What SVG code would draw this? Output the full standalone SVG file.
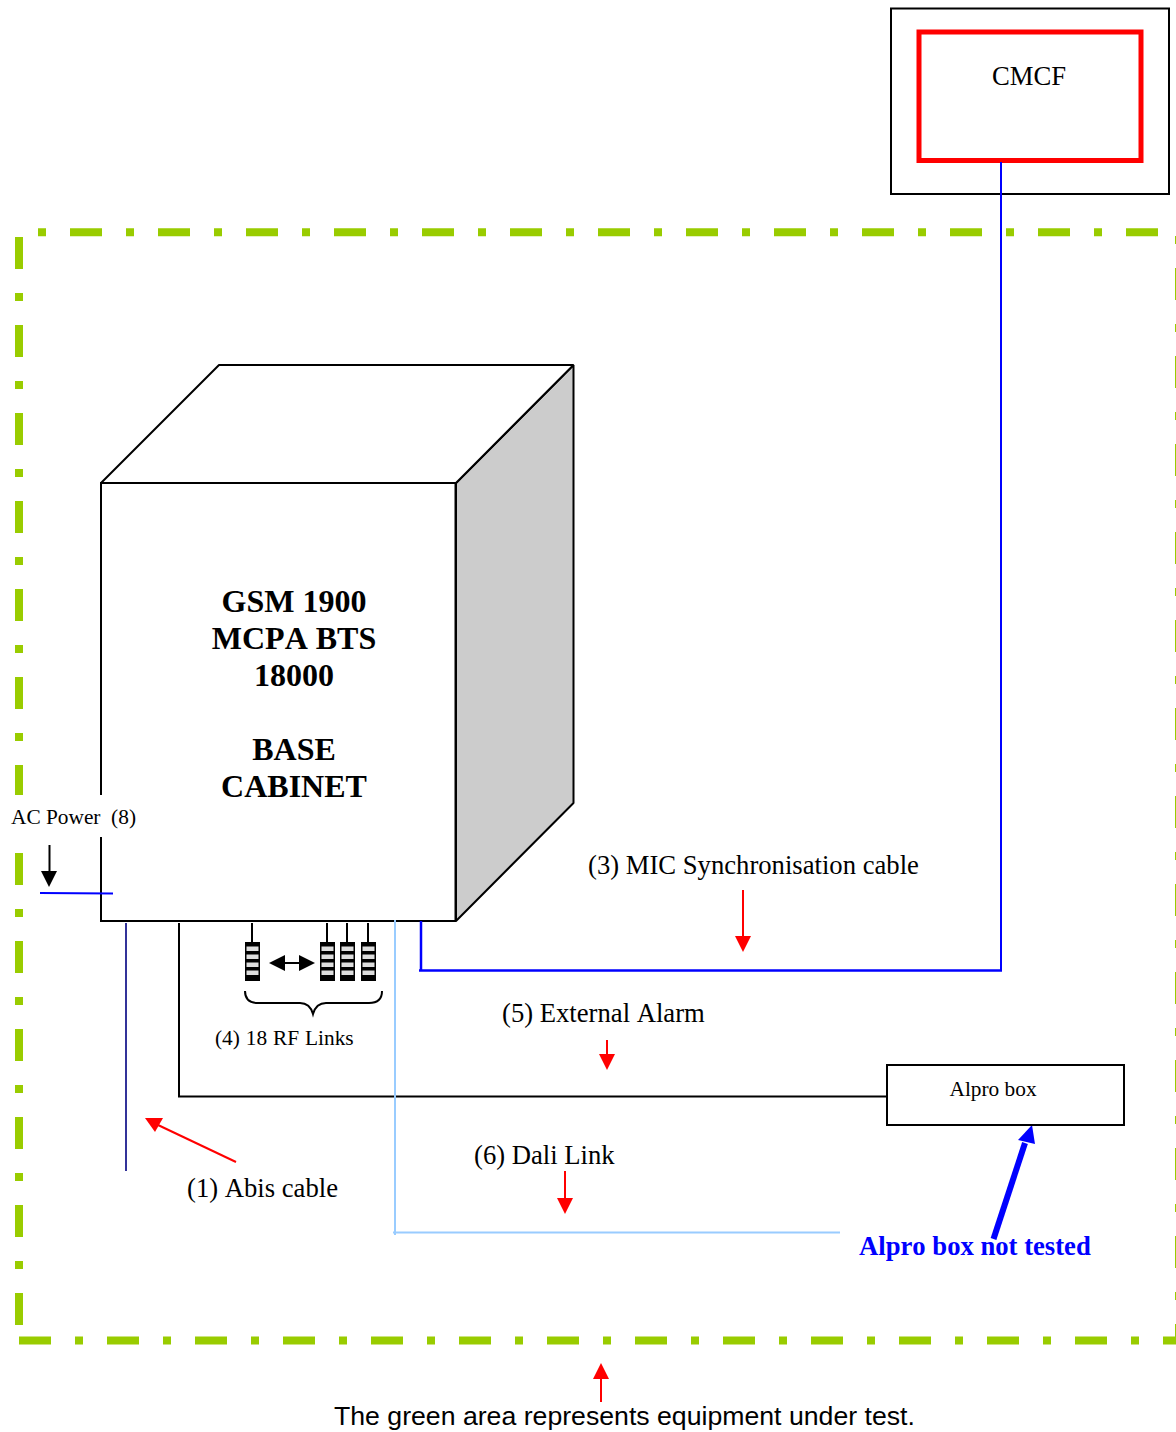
<svg xmlns="http://www.w3.org/2000/svg" width="1176" height="1432" viewBox="0 0 1176 1432">
<style>
text{font-family:"Liberation Serif","Times New Roman",serif;fill:#000;font-kerning:none;white-space:pre}
.g{fill:none;stroke:#99cc00;stroke-width:8}
.k{fill:none;stroke:#000;stroke-width:2}
.r{fill:none;stroke:#f00;stroke-width:2}
.b{fill:none;stroke:#00f;stroke-width:2}
.lb{fill:none;stroke:#99ccff;stroke-width:2}
.rh{fill:#f00}
.l{font-size:26.67px}
.t{font-size:32px;font-weight:bold;text-anchor:middle}
.s{font-size:21.33px}
</style>
<defs>
<g id="rack"><rect x="0" y="0" width="15" height="39" fill="#000"/><rect x="1.500" y="4.500" width="12" height="4.500" fill="#ddd"/><rect x="1.500" y="12.500" width="12" height="4.500" fill="#ddd"/><rect x="1.500" y="20.500" width="12" height="4.500" fill="#ddd"/><rect x="1.500" y="28.500" width="12" height="4.500" fill="#ddd"/></g>
</defs>
<g id="test-area">
<path class="g" d="M38 232.300H1176" stroke-dasharray="8 24 32 24"/>
<path class="g" d="M19 237V1325" stroke-dasharray="32 24 8 24"/>
<path class="g" d="M19 1340.400H1176" stroke-dasharray="32 24 8 24"/>
<path class="g" d="M1179 236V1344" stroke-dasharray="8 24 32 24"/>
</g>
<g id="cmcf-outer"><rect x="891" y="8.500" width="278" height="185.500" fill="none" stroke="#000" stroke-width="2"/></g>
<g id="cmcf"><rect x="919" y="32" width="222" height="128.500" fill="none" stroke="#f00" stroke-width="5"/><text x="992" y="85" class="l">CMCF</text></g>
<g id="cabinet" stroke-linejoin="bevel">
<path d="M456 483L573.500 365V803L456 921Z" fill="#ccc" stroke="#000" stroke-width="2"/>
<path d="M101 483L219 365H573.500L456 483Z" fill="#fff" stroke="#000" stroke-width="2"/>
<rect x="101" y="483" width="354.500" height="438" fill="#fff" stroke="#000" stroke-width="2" stroke-linejoin="miter"/>
<text class="t" x="294" y="612">GSM 1900</text>
<text class="t" x="294" y="649">MCPA BTS</text>
<text class="t" x="294" y="686">18000</text>
<text class="t" x="294" y="760">BASE</text>
<text class="t" x="294" y="797">CABINET</text>
</g>
<g id="ac-power">
<rect x="9" y="795" width="94" height="42" fill="#fff"/>
<text x="11" y="824" class="s">AC Power  (8)</text>
<path class="k" d="M49.500 845V872"/><path d="M41 871H57L49 887Z" fill="#000"/>
</g>
<g id="connectors">
<path class="b" d="M40 893L113 893.500"/>
<path d="M1001 162V970" stroke="#00f" stroke-width="2" fill="none"/>
<path d="M421 921V970" stroke="#00f" stroke-width="2.500" fill="none"/>
<path d="M419 970.500H1002" stroke="#00f" stroke-width="2.500" fill="none"/>
<path d="M126 923V1171" stroke="#333399" stroke-width="2" fill="none"/>
<path class="k" d="M179 923V1096.500H887"/>
<path class="lb" d="M395 920V1235M393 1232.500H840"/>
<path class="k" d="M252 923V942M327 923V942M347 923V942M368 923V942" stroke-width="1.500"/>
<path class="k" d="M280 963H304"/><path d="M269 963L285 955V971ZM315 963L299 955V971Z" fill="#000"/>
<path class="k" d="M245 991C245 999 250 1003 258 1003H300C307 1003 311 1007 313 1014C315 1007 319 1003 326 1003H369C377 1003 382 999 382 991"/>
<path class="r" d="M743 890V938"/><path class="rh" d="M735 936H751L743 952Z"/>
<path class="r" d="M607 1040V1056"/><path class="rh" d="M599 1054H615L607 1070Z"/>
<path class="r" d="M565 1171V1200"/><path class="rh" d="M557 1198H573L565 1214Z"/>
<path class="r" d="M601 1402V1377"/><path class="rh" d="M593 1379H609L601 1363Z"/>
<path class="r" d="M236 1162L158 1125"/><path class="rh" d="M145 1118H163L155 1132Z"/>
<path d="M993.500 1239L1025 1143" stroke="#00f" stroke-width="6" fill="none"/><path d="M1032 1125L1018 1140L1035 1144Z" fill="#00f"/>
</g>
<g id="rf-links">
<use href="#rack" x="245" y="942"/><use href="#rack" x="320" y="942"/><use href="#rack" x="340" y="942"/><use href="#rack" x="361" y="942"/>
<text x="215" y="1045" class="s" style="word-spacing:.6px">(4) 18 RF Links</text>
</g>
<g id="alpro"><rect x="887" y="1065" width="237" height="60" fill="#fff" stroke="#000" stroke-width="2"/><text x="949.500" y="1096" class="s">Alpro box</text></g>
<g id="labels">
<text x="588" y="873.500" class="l">(3) MIC Synchronisation cable</text>
<text x="502" y="1021.500" class="l">(5) External Alarm</text>
<text x="474" y="1163.500" class="l">(6) Dali Link</text>
<text x="187" y="1196.500" class="l">(1) Abis cable</text>
<text x="859" y="1255" style="font-size:26.670px;font-weight:bold;fill:#00f">Alpro box not tested</text>
<text x="334" y="1425" style="font-family:'Liberation Sans',Arial,sans-serif;font-size:26.670px">The green area represents equipment under test.</text>
</g>
</svg>
